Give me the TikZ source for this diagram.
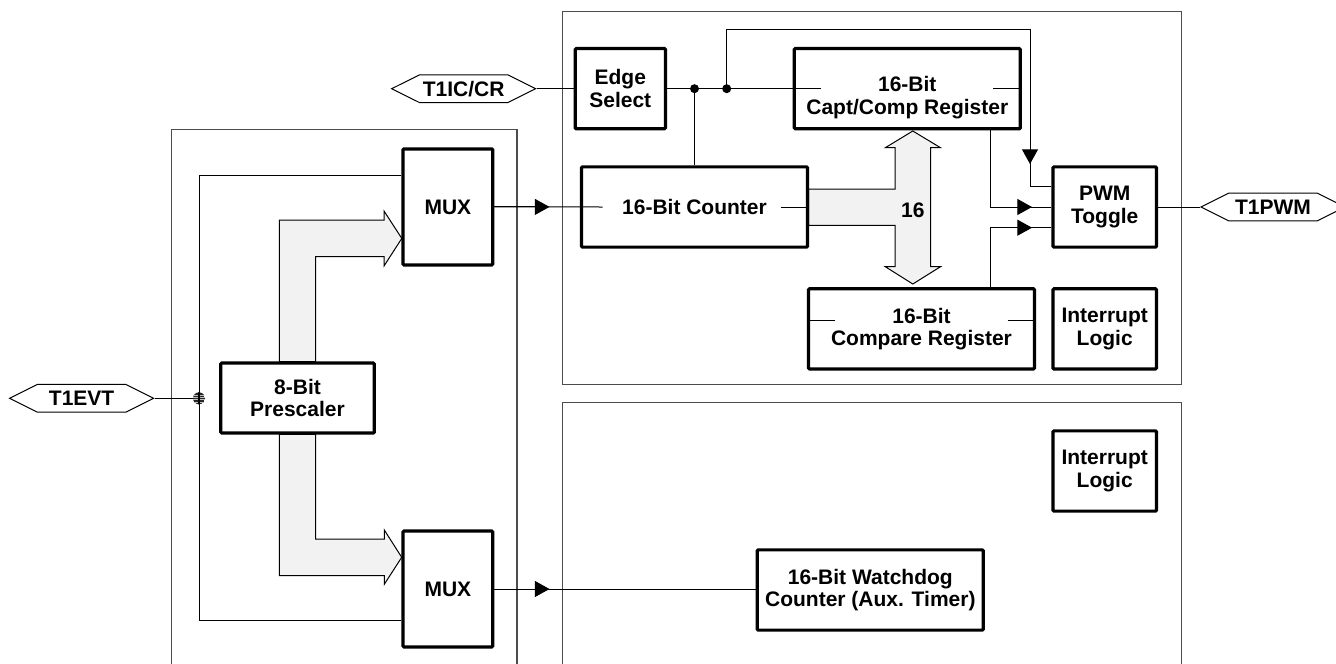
\documentclass[tikz,border=0pt]{standalone}
\usepackage{fontspec}
\setmainfont{Liberation Sans}
\usetikzlibrary{arrows.meta,shapes.symbols}

\tikzset{every picture/.style={line width=0.75pt}}
\tikzset{
  lbl/.style={align=center, inner sep=0pt, font=\bfseries\fontsize{15.75pt}{16.9pt}\selectfont},
  blk/.style={lbl, draw, line width=2.4pt, rounded corners=0.8pt, minimum width=169.5pt, minimum height=60.2pt},
  small/.style={blk, minimum width=77.6pt},
  mux/.style={blk, minimum width=67.3pt, minimum height=87pt},
  pin/.style={lbl, draw, line width=0.75pt, shape=signal, signal to=west and east, signal pointer angle=53, minimum width=108pt, minimum height=20.8pt},
  panel/.style={draw=black!70, line width=0.9pt},
  bus/.style={draw, fill=black!5, line width=0.75pt},
  sig/.style={-{Triangle[length=11pt,width=12pt]}}
}

\begin{document}
\begin{tikzpicture}[x=0.75pt,y=0.75pt,yscale=-1]
\useasboundingbox (0,0) rectangle (1336,664);

%Panels
\draw[panel] (171.7,664) -- (171.7,129.7) -- (517,129.7) -- (517,664) ;
\draw[panel] (562.7,11.7) rectangle (1181.7,384.3) ;
\draw[panel] (562.7,664) -- (562.7,402.7) -- (1181.7,402.7) -- (1181.7,664) ;

%Bus: prescaler to upper MUX
\draw[bus] (279.3,361.7) -- (279.3,220) -- (384,220) -- (384,211) -- (401.8,238.4) -- (384,266) -- (384,256.7) -- (315.7,256.7) -- (315.7,361.7) -- cycle ;
%Bus: prescaler to lower MUX
\draw[bus] (279.3,434.3) -- (279.3,575.7) -- (384.3,575.7) -- (384.3,584.3) -- (401.7,557.3) -- (384.3,530) -- (384.3,539) -- (315.7,539) -- (315.7,434.3) -- cycle ;
%Bus: 16 bit
\draw[bus] (808.7,189) -- (895,189) -- (895,147.7) -- (885.3,147.7) -- (912.8,131) -- (940.5,147.7) -- (930.7,147.7) -- (930.7,266.7) -- (940.5,266.7) -- (912.8,284) -- (885.3,266.7) -- (895,266.7) -- (895,225.3) -- (808.7,225.3) -- cycle ;
\node[lbl] (width) at (912.8,210) {16};

%Pins
\node[pin] (t1ic) at (463.7,88.7) {T1IC/CR};
\node[pin] (t1evt) at (81.6,398.3) {T1EVT};
\node[pin] (t1pwm) at (1273,207) {T1PWM};

%Blocks
\node[blk, minimum width=67.7pt] (edge) at (620.3,88.7) {Edge\\Select};
\node[blk] (ccr) at (907.3,88.7) {};
\node[lbl] (ccrtxt) at (907.3,97.5) {16-Bit\\Capt/Comp Register};
\node[blk] (cnt) at (694.5,207) {16-Bit Counter};
\node[small] (pwm) at (1104.7,207) {PWM\\Toggle};
\node[blk] (cmp) at (921.5,328.9) {16-Bit\\Compare Register};
\node[small] (inta) at (1104.7,328.9) {Interrupt\\Logic};
\node[small] (intb) at (1104.7,471) {Interrupt\\Logic};
\node[blk] (wdg) at (870.3,590) {16-Bit Watchdog\\Counter (Aux. Timer)};
\node[mux] (muxa) at (447.9,206.9) {MUX};
\node[mux] (muxb) at (447.9,589) {MUX};
\node[blk, minimum width=115.1pt, minimum height=52.6pt] (pre) at (297.5,398) {8-Bit\\Prescaler};

%Capture input
\coordinate (ja) at (694.5,88.7);
\coordinate (jb) at (726.7,88.7);
\coordinate (ccrin) at (820.6,88.7);
\draw (t1ic.east) -- (edge.west) ;
\draw (edge.east) -- (ccrin) ;
\draw (993,88.7) -- (ccr.east) ;
\fill (ja) circle (4.5) ;
\fill (jb) circle (4.5) ;
\draw (ja) -- (cnt.north) ;

%Lines into PWM toggle
\coordinate (ka) at (1030,29.3);
\coordinate (kb) at (1030,186);
\coordinate (kc) at (990,207);
\coordinate (kd) at (990,227.7);
\draw (jb) |- (ka) -- (kb) -- (kb -| pwm.west) ;
\draw[sig] (ka) -- (1030,164) ;
\draw (ccr.south -| kc) -- (kc) -- (pwm.west) ;
\draw[sig] (kc) -- +(42,0) ;
\draw (cmp.north -| kd) -- (kd) -- (kd -| pwm.west) ;
\draw[sig] (kd) -- +(42,0) ;
\draw (pwm.east) -- (t1pwm.west) ;

%Counter and compare stubs
\coordinate (cntin) at (602.7,207);
\draw (781,207) -- (cnt.east) ;
\draw (807,320) -- (835.3,320) ;
\draw (1007.7,320) -- (1036,320) ;

%MUX outputs
\draw (muxa.east) -- (cntin) ;
\draw[sig] (muxa.east) -- (549.5,206.9) ;
\draw (muxb.east) -- (muxb.east -| wdg.west) ;
\draw[sig] (muxb.east) -- (549.5,589) ;

%Event input
\coordinate (jc) at (199,398.3);
\coordinate (la) at (199,175);
\coordinate (lb) at (199,620.7);
\draw (t1evt.east) -- (jc) ;
\draw (la -| muxa.west) -- (la) -- (lb) -- (lb -| muxb.west) ;
\begin{scope}
\clip (jc) circle (6) ;
\fill[black!85] (jc) circle (6) ;
\draw[white!75!black, line width=0.4pt] (192,394.8) -- (206,394.8) (192,397.2) -- (206,397.2) (192,399.6) -- (206,399.6) (192,402) -- (206,402) ;
\draw[line width=0.9pt] (199,391) -- (199,406) ;
\end{scope}

\end{tikzpicture}
\end{document}
